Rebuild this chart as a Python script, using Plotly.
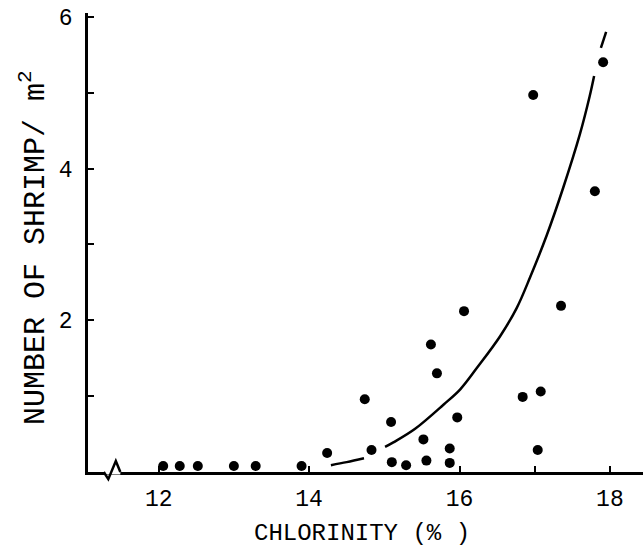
import plotly.graph_objects as go

# Observations: chlorinity (x) vs number of shrimp per m^2 (y)
chlorinity = [12.06, 12.28, 12.52, 13.00, 13.29, 13.90,
              14.24, 14.74, 14.83, 15.09, 15.10, 15.29, 15.52, 15.56,
              15.62, 15.70, 15.87, 15.87, 15.97, 16.06, 16.84, 17.08,
              17.04, 17.35, 16.98, 17.80, 17.91]
shrimp = [0.08, 0.08, 0.08, 0.08, 0.08, 0.08,
          0.25, 0.96, 0.29, 0.66, 0.13, 0.09, 0.43, 0.15,
          1.68, 1.30, 0.31, 0.12, 0.72, 2.12, 0.99, 1.06,
          0.29, 2.19, 4.97, 3.70, 5.40]

# Fitted curve as drawn (None = gaps in the drawn line)
curve_x = [14.29, 14.50, 14.73, None, 15.01, 15.12, 15.41, 15.79, 16.01, 16.23,
           16.54, 16.76, 16.94, 17.16, 17.38, 17.60, 17.73, 17.79, None, 17.88, 17.95]
curve_y = [0.09, 0.13, 0.18, None, 0.33, 0.39, 0.57, 0.89, 1.09, 1.37,
           1.79, 2.16, 2.57, 3.12, 3.75, 4.45, 4.95, 5.22, None, 5.59, 5.80]

x_tickvals = [12, 14, 16, 18]
x_minor_ticks = [17]
y_tickvals = [2, 4, 6]
y_minor_ticks = [1, 3, 5]

x_title = "CHLORINITY (% )"
y_title = "NUMBER OF SHRIMP/ m<sup>2</sup>"

FONT = "Liberation Mono"

fig = go.Figure()
fig.add_trace(go.Scatter(x=curve_x, y=curve_y, mode="lines",
                         line=dict(color="black", width=2.5, shape="spline", smoothing=1.0),
                         connectgaps=False, hoverinfo="skip", showlegend=False,
                         cliponaxis=False))
fig.add_trace(go.Scatter(x=chlorinity, y=shrimp, mode="markers",
                         marker=dict(color="black", size=10, line=dict(width=0)),
                         showlegend=False, cliponaxis=False))

tick_style = dict(ticks="inside", ticklen=6, tickwidth=2, tickcolor="black")

fig.update_layout(
    width=643, height=548,
    margin=dict(l=88, r=0, t=13, b=76),
    paper_bgcolor="white", plot_bgcolor="white",
    font=dict(family=FONT, color="black", size=23),
    xaxis=dict(range=[11.06, 18.44], tickmode="array", tickvals=x_tickvals,
               minor=dict(tickmode="array", tickvals=x_minor_ticks, **tick_style),
               showline=True, linecolor="black", linewidth=2.5,
               showgrid=False, zeroline=False, ticklabelstandoff=4,
               tickfont=dict(family=FONT, size=23, color="black"), **tick_style),
    yaxis=dict(range=[0, 6.05], tickmode="array", tickvals=y_tickvals,
               minor=dict(tickmode="array", tickvals=y_minor_ticks, **tick_style),
               showline=True, linecolor="black", linewidth=2.5,
               showgrid=False, zeroline=False, ticklabelstandoff=8,
               tickfont=dict(family=FONT, size=23, color="black"), **tick_style),
    annotations=[
        dict(text=x_title, xref="paper", yref="paper", x=0.494, y=-0.133,
             showarrow=False, xanchor="center", yanchor="middle",
             font=dict(family=FONT, size=24, color="black")),
        dict(text=y_title, xref="paper", yref="paper", x=-0.099, y=0.488,
             showarrow=False, xanchor="center", yanchor="middle", textangle=-90,
             font=dict(family=FONT, size=30, color="black")),
    ],
    shapes=[
        dict(type="line", xref="x", yref="paper", x0=11.28, x1=11.49, y0=0, y1=0,
             line=dict(color="white", width=5)),
        dict(type="path", xref="x", yref="paper",
             path="M 11.27,0 L 11.33,-0.0155 L 11.43,0.024 L 11.49,0",
             line=dict(color="black", width=2.5)),
    ],
)

fig.write_html("out.html")
